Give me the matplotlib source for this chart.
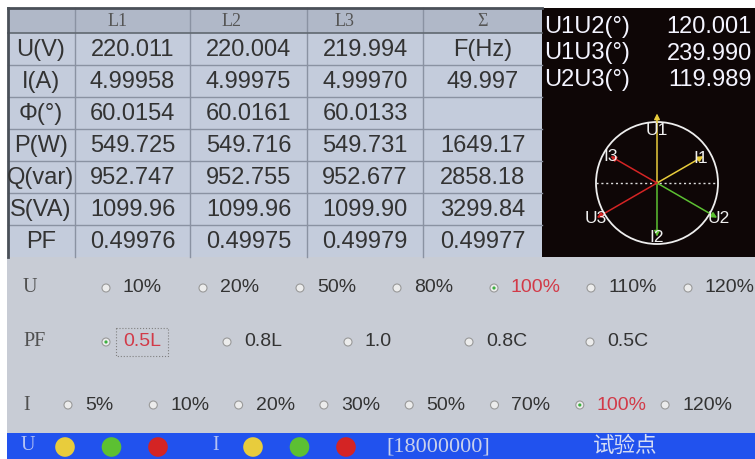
"""Recreate the three-phase test screen (table, phasor diagram, test point options)."""

import numpy as np
import matplotlib.pyplot as plt
from matplotlib.patches import Rectangle, Circle

plt.rcParams['font.family'] = ['Liberation Sans', 'DejaVu Sans']

# measurement table
col_names = ["L1", "L2", "L3", "Σ"]
row_names = ["U(V)", "I(A)", "Φ(°)", "P(W)", "Q(var)", "S(VA)", "PF"]
l1_values = [220.011, 4.99958, 60.0154, 549.725, 952.747, 1099.96, 0.49976]
l2_values = [220.004, 4.99975, 60.0161, 549.716, 952.755, 1099.96, 0.49975]
l3_values = [219.994, 4.99970, 60.0133, 549.731, 952.677, 1099.90, 0.49979]
sum_values = [None, None, None, 1649.17, 2858.18, 3299.84, 0.49977]
freq = 49.997

# angles between the voltages
angle_names = ["U1U2(°)", "U1U3(°)", "U2U3(°)"]
angle_values = [120.001, 239.990, 119.989]

# test point selection
u_options = ["10%", "20%", "50%", "80%", "100%", "110%", "120%"]
u_selected = "100%"
pf_options = ["0.5L", "0.8L", "1.0", "0.8C", "0.5C"]
pf_selected = "0.5L"
i_options = ["5%", "10%", "20%", "30%", "50%", "70%", "100%", "120%"]
i_selected = "100%"
counter = "[18000000]"

# global parameters
W, H = 755, 459
text_color = "#333333"
cell_color = "#c4ccdc"
header_color = "#b0b8c8"
grid_color = "#8a92a2"
phase_colors = ["#e8cc3c", "#5cc032", "#d42424"]
x_edges = [8, 75, 190, 307, 423, 542]
y_edges = [8, 33, 65, 97, 129, 161, 193, 225, 257]
serif = ['Liberation Serif', 'DejaVu Serif']


def fmt(v):
    """Show a value with 6 digits, like the meter does."""
    return "{:.{}f}".format(v, 6 - len(str(int(v))))


def draw_table(ax):
    ax.add_patch(Rectangle((x_edges[0], y_edges[0]), x_edges[-1] - x_edges[0],
                           y_edges[-1] - y_edges[0], color=cell_color, lw=0))
    ax.add_patch(Rectangle((x_edges[0], y_edges[0]), x_edges[-1] - x_edges[0],
                           y_edges[1] - y_edges[0], color=header_color, lw=0))
    for x in x_edges[1:-1]:
        ax.plot([x, x], [y_edges[0], y_edges[-1]], color=grid_color, lw=1)
    for y in y_edges[2:-1]:
        ax.plot([x_edges[0], x_edges[-1]], [y, y], color=grid_color, lw=1)
    ax.plot([x_edges[0], x_edges[-1]], [y_edges[1], y_edges[1]], color="#606870", lw=1.2)
    ax.plot([x_edges[0], x_edges[-1]], [y_edges[0], y_edges[0]], color="#4a5058", lw=2)
    ax.plot([x_edges[0], x_edges[0]], [y_edges[0], y_edges[-1]], color="#4a5058", lw=2)

    header_x = [118, 232, 345, 483]
    for name, x in zip(col_names, header_x):
        ax.text(x, 21, name, ha='center', va='center', fontsize=13,
                family=serif, color="#555555")

    columns = [l1_values, l2_values, l3_values, sum_values]
    for i, name in enumerate(row_names):
        yc = (y_edges[i + 1] + y_edges[i + 2]) / 2 + 1
        ax.text(41, yc, name, ha='center', va='center', fontsize=17, color=text_color)
        for j, col in enumerate(columns):
            xc = (x_edges[j + 1] + x_edges[j + 2]) / 2
            if j == 3 and i == 0:
                s = "F(Hz)"
            elif j == 3 and i == 1:
                s = "{:.3f}".format(freq)
            elif col[i] is None:
                s = ""
            else:
                s = fmt(col[i])
            ax.text(xc, yc, s, ha='center', va='center', fontsize=17, color=text_color)


def draw_phasors(ax):
    ax.add_patch(Rectangle((542, 8), W - 542, 249, color="#0e0606", lw=0))
    for k, (name, v) in enumerate(zip(angle_names, angle_values)):
        y = 27 + 26.5 * k
        ax.text(544, y, name, ha='left', va='center', fontsize=17, color="#f4f4ff")
        ax.text(752, y, fmt(v), ha='right', va='center', fontsize=17, color="#f4f4ff")

    cx, cy, r = 657, 183, 61
    ax.add_patch(Circle((cx, cy), r, fill=False, ec="#eeeeee", lw=1.3))
    ax.plot([cx - r, cx + r], [cy, cy], color="#dddddd", lw=1, ls=(0, (1.5, 2)))

    u_angle = [90, 90 - angle_values[0], 90 - angle_values[1]]
    i_angle = [u - phi for u, phi in zip(u_angle, [l1_values[2], l2_values[2], l3_values[2]])]
    u_label_r = [0.86, 1.16, 1.16]
    i_label_r = [0.82, 0.9, 0.88]
    for k in range(3):
        for ang, length, lab, lr in [(u_angle[k], 1.14, "U%d" % (k + 1), u_label_r[k]),
                                     (i_angle[k], 0.88, "I%d" % (k + 1), i_label_r[k])]:
            a = np.radians(ang)
            ex, ey = cx + length * r * np.cos(a), cy - length * r * np.sin(a)
            ax.annotate("", xy=(ex, ey), xytext=(cx, cy),
                        arrowprops=dict(arrowstyle="-|>", color=phase_colors[k], lw=1.1,
                                        mutation_scale=8, shrinkA=0, shrinkB=0))
            ax.text(cx + lr * r * np.cos(a), cy - lr * r * np.sin(a), lab,
                    ha='center', va='center', fontsize=12.5, color="#f0f0f0")


def draw_radio_row(ax, y, label, options, selected, x0, step):
    ax.text(23, y, label, ha='left', va='center', fontsize=14.5,
            family=serif, color="#505050")
    for k, opt in enumerate(options):
        x = x0 + step * k
        ax.add_patch(Circle((x, y), 4, fc="#ececec", ec="#9a9a9a", lw=0.8))
        color = text_color
        if opt == selected:
            ax.add_patch(Circle((x, y), 1.6, fc="#3cb040", lw=0))
            color = "#d23a48"
        ax.text(x + 17, y, opt, ha='left', va='center', fontsize=14, color=color)
        if opt == selected and label == "PF":
            ax.add_patch(Rectangle((x + 10, y - 14), 52, 28, fill=False,
                                   ec="#808080", lw=0.8, ls=':'))


def draw_status_bar(ax):
    ax.add_patch(Rectangle((7, 433), W - 7, H - 433, color="#2152ee", lw=0))
    for lab, x0 in [("U", 28), ("I", 216)]:
        ax.text(x0, 446, lab, ha='center', va='center', fontsize=14.5, family=serif,
                color="#b4c2f4")
        for k in range(3):
            ax.add_patch(Circle((x0 + 37 + 46.5 * k, 447), 9.8, fc=phase_colors[k],
                                ec="none"))
    ax.text(386, 447, counter, ha='left', va='center', fontsize=16, family=serif,
            color="#c8d0ec")
    ax.text(593, 446, "试验点", ha='left', va='center', fontsize=15.5,
            family=['Noto Sans CJK SC', 'DejaVu Sans'], color="#d4dcf4")


fig = plt.figure(figsize=(W / 100, H / 100), dpi=100)
ax = fig.add_axes([0, 0, 1, 1])
ax.set_xlim(0, W)
ax.set_ylim(H, 0)
ax.axis('off')

# lower panel background
ax.add_patch(Rectangle((7, 257), W - 7, 176, color="#c8ccd5", lw=0))
draw_table(ax)
draw_phasors(ax)
draw_radio_row(ax, 288, "U", u_options, u_selected, 106, 97)
draw_radio_row(ax, 342, "PF", pf_options, pf_selected, 106, 121)
draw_radio_row(ax, 405, "I", i_options, i_selected, 68, 85.3)
draw_status_bar(ax)

fig.savefig("out.png", dpi=100)
